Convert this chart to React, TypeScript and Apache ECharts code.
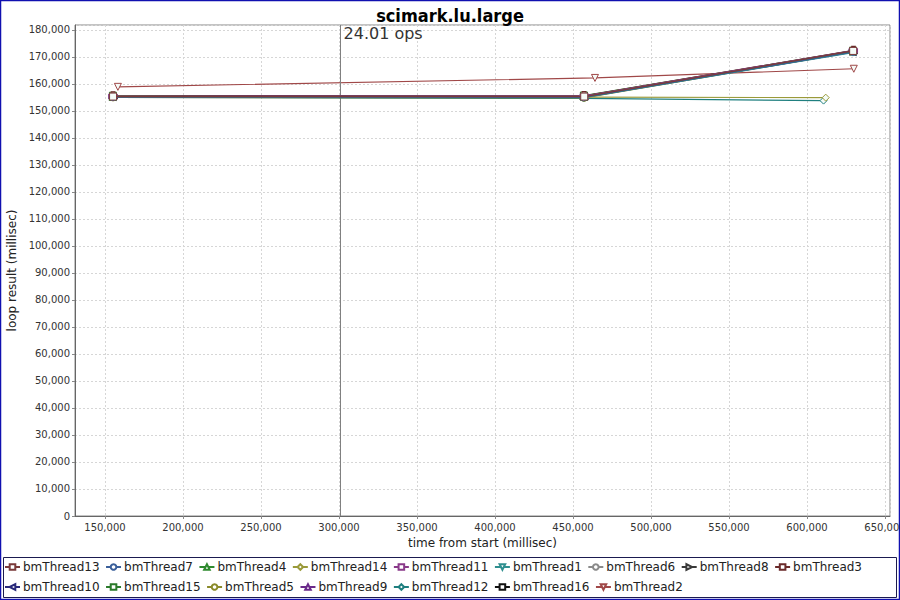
import React, { useEffect, useRef } from "react";
import * as echarts from "echarts";

const seriesNames = [
  "bmThread13", "bmThread7", "bmThread4", "bmThread14", "bmThread11", "bmThread1",
  "bmThread6", "bmThread8", "bmThread3", "bmThread10", "bmThread15", "bmThread5",
  "bmThread9", "bmThread12", "bmThread16", "bmThread2",
];
const legendRow1 = seriesNames.slice(0, 9);
const legendRow2 = seriesNames.slice(9);

const seriesColors = [
  "#7a3a3a", "#3a5f9a", "#2f8a2f", "#9a9a3a", "#8a3a8a", "#2f8f8f",
  "#8a8a8a", "#3a3a3a", "#6a2a2a", "#2a2a7a", "#2a7a2a", "#8a8a2a",
  "#6a2a8a", "#1f7f7f", "#111111", "#a04848",
];

const symbols = [
  "rect", "circle", "triangle", "diamond", "rect", "triangle",
  "circle", "triangle", "rect", "triangle", "rect", "circle",
  "triangle", "diamond", "rect", "triangle",
];
const symbolRotations = [0, 0, 0, 0, 0, 180, 0, -90, 0, 90, 0, 0, 0, 0, 0, 180];
const symbolSizes: any[] = [
  7, 7, 7, 7, [8, 4], 7, [8, 4], 7, [4, 8], 7, 7, 7, 7, 7, [8, 4], 7,
];

const seriesData: number[][][] = [
  [[155200, 155300], [457200, 155300], [629600, 172200]],
  [[155100, 155100], [456900, 155000], [629400, 171800]],
  [[155000, 155200], [457100, 155200], [629500, 172000]],
  [[155300, 155200], [457000, 155100], [612000, 154900]],
  [[155100, 155400], [457300, 155500], [629700, 172300]],
  [[155200, 155000], [456800, 154900], [629300, 171600]],
  [[155000, 155300], [457000, 155400], [629500, 172100]],
  [[155100, 155200], [457200, 155300], [629600, 171900]],
  [[155200, 155500], [457100, 155600], [629800, 172400]],
  [[155000, 155100], [456900, 155200], [629400, 171700]],
  [[155100, 155600], [457000, 155700], [629500, 172300]],
  [[155200, 155000], [457100, 154800], [629600, 171800]],
  [[155000, 155300], [457200, 155200], [629700, 172100]],
  [[155100, 155000], [456900, 154600], [610600, 153800]],
  [[155300, 155200], [457100, 155000], [629500, 171900]],
  [[158300, 158900], [464100, 162200], [630000, 165600]],
];

const chartTitle = "scimark.lu.large";
const xAxisName = "time from start (millisec)";
const yAxisName = "loop result (millisec)";
const xMin = 130800;
const xMax = 653200;
const yMin = 0;
const yMax = 181800;
const markerX = 301000;
const markerLabel = "24.01 ops";

const FONT = "'DejaVu Sans', sans-serif";
const fmt = (v: number) => Math.round(v).toLocaleString("en-US");

export default function App() {
  const ref = useRef<HTMLDivElement>(null);
  useEffect(() => {
    if (!ref.current) return;
    const chart = echarts.init(ref.current, undefined, { renderer: "svg" });
    const n = seriesNames.length;
    const series: any[] = seriesNames.map((name, i) => ({
      name,
      type: "line",
      data: seriesData[i],
      symbol: symbols[i],
      symbolSize: symbolSizes[i],
      symbolRotate: symbolRotations[i],
      showAllSymbol: true,
      lineStyle: { color: seriesColors[i], width: 1.2 },
      itemStyle: { color: "#f4fbf8", borderColor: seriesColors[i], borderWidth: 1 },
      emphasis: { disabled: true },
      z: 3 + (n - i),
    }));
    series[0].markLine = {
      symbol: "none",
      silent: true,
      label: { show: false },
      lineStyle: { color: "#808080", type: "solid", width: 1 },
      data: [{ xAxis: markerX }],
    };
    series[0].markPoint = {
      symbol: "rect",
      symbolSize: 0,
      silent: true,
      data: [{ coord: [markerX, yMax] }],
      label: {
        show: true,
        formatter: markerLabel,
        position: [3, 0],
        align: "left",
        verticalAlign: "top",
        fontSize: 16,
        color: "#333333",
        fontFamily: FONT,
      },
    };
    const legendCommon = {
      left: 4,
      width: 890,
      padding: 0,
      itemWidth: 15,
      itemHeight: 7,
      itemGap: 5.5,
      itemStyle: { color: "#ffffff" },
      textStyle: { fontSize: 12, color: "#222", fontFamily: FONT, padding: [0, 0, 0, -2] },
      selectedMode: false,
    };
    chart.setOption({
      animation: false,
      backgroundColor: "#ffffff",
      title: {
        text: chartTitle,
        left: "center",
        top: 1,
        textStyle: { fontSize: 18, fontWeight: "bold", color: "#000", fontFamily: "'DejaVu Sans Condensed', 'DejaVu Sans', sans-serif" },
      },
      legend: [
        { ...legendCommon, top: 561, data: legendRow1 },
        { ...legendCommon, top: 581, data: legendRow2 },
      ],
      grid: {
        left: 75,
        right: 10,
        top: 25,
        bottom: 84,
        show: true,
        borderColor: "#888888",
        borderWidth: 1,
        outerBoundsMode: "none",
        containLabel: false,
      },
      xAxis: {
        type: "value",
        min: xMin,
        max: xMax,
        minInterval: 50000,
        maxInterval: 50000,
        name: xAxisName,
        nameLocation: "middle",
        nameGap: 21,
        nameTextStyle: { fontSize: 12, color: "#222", fontFamily: FONT },
        axisLine: { show: true, lineStyle: { color: "#666" } },
        axisTick: { show: true, length: 3, lineStyle: { color: "#888" } },
        axisLabel: {
          fontSize: 10,
          color: "#333",
          fontFamily: FONT,
          margin: 6,
          showMinLabel: false,
          showMaxLabel: false,
          hideOverlap: false,
          formatter: (v: number) => (v % 50000 === 0 ? fmt(v) : ""),
        },
        splitLine: { show: true, lineStyle: { color: "#d6d6d6", type: [2, 2] } },
      },
      yAxis: {
        type: "value",
        min: yMin,
        max: yMax,
        interval: 10000,
        name: yAxisName,
        nameLocation: "middle",
        nameGap: 53,
        nameTextStyle: { fontSize: 12, color: "#222", fontFamily: FONT },
        axisLine: { show: true, lineStyle: { color: "#666" } },
        axisTick: { show: true, length: 3, lineStyle: { color: "#888" } },
        axisLabel: {
          fontSize: 10,
          color: "#333",
          fontFamily: FONT,
          margin: 5,
          showMaxLabel: false,
          formatter: (v: number) => (v % 10000 === 0 ? fmt(v) : ""),
        },
        splitLine: { show: true, lineStyle: { color: "#d6d6d6", type: [2, 2] } },
      },
      graphic: [
        {
          type: "rect",
          shape: { x: 3.5, y: 557.5, width: 893, height: 40 },
          style: { fill: "none", stroke: "#1a1a50", lineWidth: 1 },
          silent: true,
          z: 0,
        },
        {
          type: "rect",
          shape: { x: 0.5, y: 0.5, width: 899, height: 599 },
          style: { fill: "none", stroke: "#1010b0", lineWidth: 1.5 },
          silent: true,
          z: 0,
        },
      ],
      series,
    });
    return () => chart.dispose();
  }, []);
  return (
    <div
      ref={ref}
      style={{ position: "fixed", left: 0, top: 0, width: 900, height: 600 }}
    />
  );
}
